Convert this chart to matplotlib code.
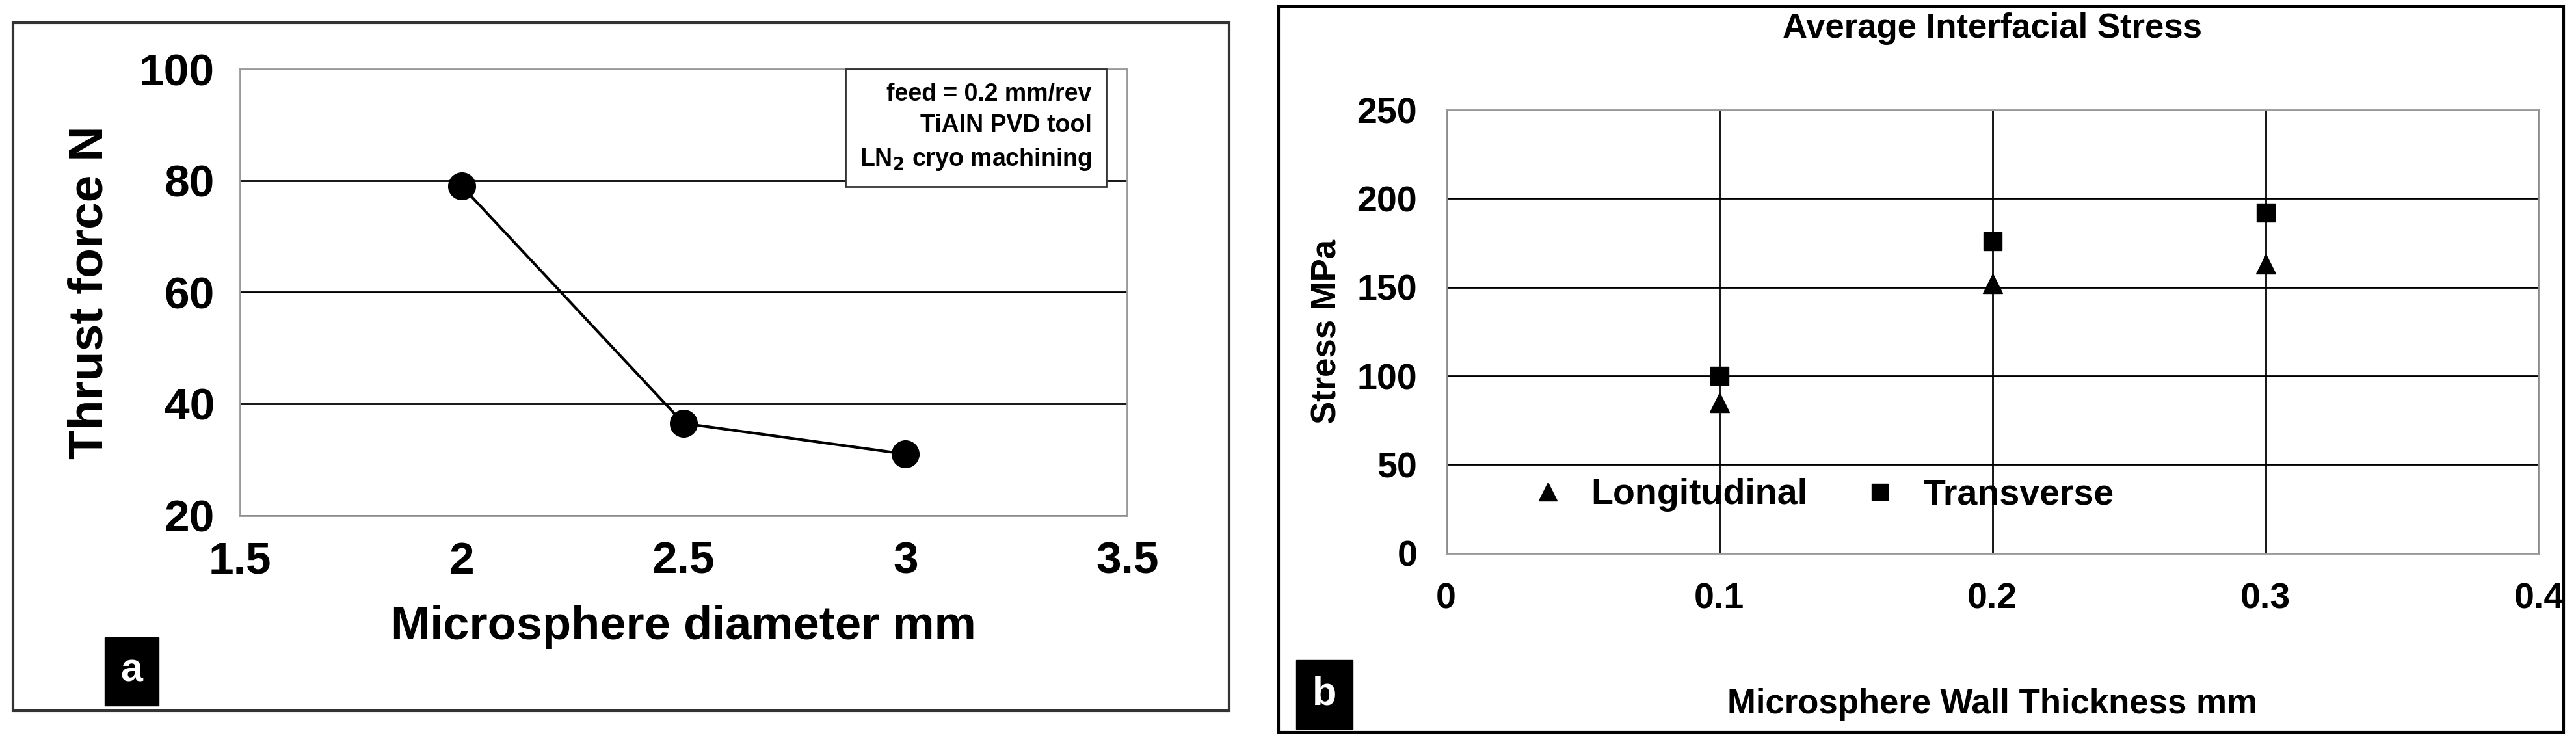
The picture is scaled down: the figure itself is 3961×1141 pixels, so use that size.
import matplotlib
matplotlib.use("Agg")
import matplotlib.pyplot as plt
from matplotlib.patches import Rectangle

plt.rcParams['font.family'] = ['Liberation Sans', 'DejaVu Sans']
plt.rcParams['font.weight'] = 'bold'

diam = [2.0, 2.5, 3.0]
thrust = [79, 36.5, 31]
wall = [0.1, 0.2, 0.3]
longitudinal = [85, 152, 163]
transverse = [100, 176, 192]

fig = plt.figure(figsize=(39.62, 11.41), dpi=100)
W, H = 1568, 452
def fx(x): return x / W
def fy(y): return 1 - y / H

fig.patches.append(Rectangle((fx(8), fy(433)), fx(748 - 8), (433 - 14) / H, transform=fig.transFigure,
                             fill=False, lw=3, ec='#333333'))
fig.patches.append(Rectangle((fx(778), fy(446)), fx(1560 - 778), (446 - 4) / H, transform=fig.transFigure,
                             fill=False, lw=3, ec='black'))

# Panel a
axa = fig.add_axes([fx(146), fy(314), fx(686 - 146), (314 - 42) / H])
axa.plot(diam, thrust, '-o', color='black', lw=3, ms=30)
axa.set_xlim(1.5, 3.5)
axa.set_ylim(20, 100)
axa.set_xticks([1.5, 2, 2.5, 3, 3.5])
axa.set_xticklabels(['1.5', '2', '2.5', '3', '3.5'])
axa.set_yticks([20, 40, 60, 80, 100])
axa.yaxis.grid(True, color='black', lw=2)
axa.set_axisbelow(True)
for s in axa.spines.values():
    s.set_color('#999999'); s.set_linewidth(2)
axa.tick_params(length=0, labelsize=50, pad=28)
axa.set_xlabel('Microsphere diameter mm', fontsize=52, fontweight='bold', labelpad=25)
axa.set_ylabel('Thrust force N', fontsize=54, fontweight='bold', labelpad=30)
axa.text(0.96, 0.97, 'feed = 0.2 mm/rev\nTiAIN PVD tool\nLN$_2$ cryo machining',
         transform=axa.transAxes, fontsize=27, fontweight='bold', va='top', ha='right', linespacing=1.45,
         bbox=dict(boxstyle='square,pad=0.6', fc='white', ec='#333333', lw=2))
fig.text(fx(80), fy(409), 'a', fontsize=44, color='white', ha='center', va='center',
         bbox=dict(boxstyle='square,pad=0.4', fc='black', ec='black'))

# Panel b
axb = fig.add_axes([fx(880), fy(337), fx(1545 - 880), (337 - 67) / H])
axb.plot(wall, longitudinal, '^', color='black', ms=22, ls='none', label='Longitudinal')
axb.plot(wall, transverse, 's', color='black', ms=20, ls='none', label='Transverse')
axb.set_xlim(0, 0.4)
axb.set_ylim(0, 250)
axb.set_xticks([0, 0.1, 0.2, 0.3, 0.4])
axb.set_xticklabels(['0', '0.1', '0.2', '0.3', '0.4'])
axb.set_yticks(range(0, 251, 50))
axb.grid(True, color='black', lw=2)
axb.set_axisbelow(True)
for s in axb.spines.values():
    s.set_color('#999999'); s.set_linewidth(2)
axb.tick_params(length=0, labelsize=40, pad=32)
axb.set_xlabel('Microsphere Wall Thickness mm', fontsize=38, fontweight='bold', labelpad=80)
axb.set_ylabel('Stress MPa', fontsize=38, fontweight='bold', labelpad=15)
axb.set_title('Average Interfacial Stress', fontsize=38, fontweight='bold', pad=80)
axb.legend(loc='lower left', bbox_to_anchor=(0.03, 0.02), ncol=2, frameon=False, fontsize=40,
           handletextpad=0.2, columnspacing=1.0, markerscale=0.9)
fig.text(fx(806), fy(423), 'b', fontsize=44, color='white', ha='center', va='center',
         bbox=dict(boxstyle='square,pad=0.4', fc='black', ec='black'))

fig.savefig('out.png', dpi=100, facecolor='white')
